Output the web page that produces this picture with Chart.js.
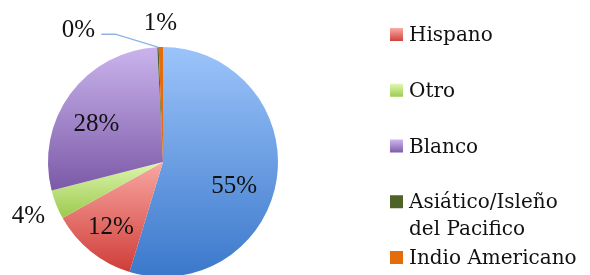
<!DOCTYPE html>
<html>
<head>
<meta charset="utf-8">
<script src="https://cdn.jsdelivr.net/npm/chart.js@4"></script>
<style>
  html, body { margin: 0; padding: 0; background: #fff; overflow: hidden; }
  canvas { display: block; }
</style>
</head>
<body>
<canvas id="pie" width="590" height="290"></canvas>
<script>
// data (share of total, %)
const categories = ['Afroamericano', 'Hispano', 'Otro', 'Blanco', 'Asiático/Isleño del Pacifico', 'Indio Americano'];
const shares = [54.7, 12.2, 4.1, 28.2, 0.2, 0.6];
const lightColors = ['#9cc4fa', '#f9a7a2', '#ddf6ad', '#cab4ed', '#4f6228', '#e46c0a'];
const darkColors = ['#3b78cb', '#cf3d38', '#9cc94e', '#7b59a7', '#4f6228', '#e46c0a'];

// label placement: fraction of radius, extra turn in degrees
const labelSpots = [[0.65, 9.5], [0.72, 0], [1.26, 0], [0.67, -6], [1.37, -30], [1.21, 0]];

const total = shares.reduce((a, b) => a + b, 0);

function sliceFill(ctx) {
    let chart = ctx.chart
    let i = ctx.dataIndex
    let area = chart.chartArea
    if (!area) return lightColors[i]
    let cx = (area.left + area.right) / 2
    let cy = (area.top + area.bottom) / 2
    let r = Math.min(area.right - area.left, area.bottom - area.top) / 2
    let before = 0
    for (let k = 0; k < i; k++) before += shares[k]
    let a0 = before / total * 2 * Math.PI
    let a1 = (before + shares[i]) / total * 2 * Math.PI
    let ys = [cy, cy - r * Math.cos(a0), cy - r * Math.cos(a1)]
    if (a0 <= 0 || a1 >= 2 * Math.PI) ys.push(cy - r)
    if (a0 <= Math.PI && a1 >= Math.PI) ys.push(cy + r)
    let g = chart.ctx.createLinearGradient(0, Math.min(...ys), 0, Math.max(...ys))
    g.addColorStop(0, lightColors[i])
    g.addColorStop(1, darkColors[i])
    return g
}

const sliceLabels = {
    id: 'sliceLabels',
    afterDatasetsDraw(chart) {
        let c = chart.ctx
        let arcs = chart.getDatasetMeta(0).data
        c.save()
        c.font = '25px "Liberation Serif"'
        c.fillStyle = '#111'
        c.textAlign = 'center'
        c.textBaseline = 'middle'
        arcs.forEach((arc, i) => {
            let mid = (arc.startAngle + arc.endAngle) / 2
            let [f, turn] = labelSpots[i]
            let a = mid + turn * Math.PI / 180
            let tx = arc.x + Math.cos(a) * arc.outerRadius * f
            let ty = arc.y + Math.sin(a) * arc.outerRadius * f
            if (turn < -20) {
                // leader line for the displaced label
                c.strokeStyle = '#8db4e4'
                c.lineWidth = 1.5
                c.beginPath()
                c.moveTo(tx + 23, ty + 5)
                c.lineTo(tx + 37, ty + 5)
                c.lineTo(arc.x + Math.cos(mid) * arc.outerRadius, arc.y + Math.sin(mid) * arc.outerRadius)
                c.stroke()
            }
            c.fillText(Math.round(shares[i] / total * 100) + '%', tx, ty + 1)
        })
        c.restore()
    }
}

function wrap(c, text, maxWidth) {
    let words = text.split(' ')
    let lines = []
    let line = ''
    words.forEach(w => {
        let test = line ? line + ' ' + w : w
        if (line && c.measureText(test).width > maxWidth) {
            lines.push(line)
            line = w
        } else {
            line = test
        }
    })
    lines.push(line)
    return lines
}

const sideLegend = {
    id: 'sideLegend',
    afterDraw(chart) {
        let c = chart.ctx
        let x = 390
        let y0 = -20.75
        let step = 55.75
        c.save()
        c.font = '20px "DejaVu Serif"'
        c.fillStyle = '#111'
        c.textBaseline = 'middle'
        categories.forEach((name, i) => {
            let y = y0 + i * step
            let g = c.createLinearGradient(0, y - 6.5, 0, y + 6.5)
            g.addColorStop(0, lightColors[i])
            g.addColorStop(1, darkColors[i])
            c.fillStyle = g
            c.fillRect(x, y - 7, 13, 13)
            c.fillStyle = '#111'
            wrap(c, name, 180).forEach((line, j) => {
                c.fillText(line, x + 19, y + 1 + j * 27)
            })
        })
        c.restore()
    }
}

const pieChart = new Chart('pie', {
    type: 'pie',
    data: {
        labels: categories,
        datasets: [{
            data: shares,
            backgroundColor: sliceFill,
            borderWidth: 0
        }]
    },
    options: {
        responsive: false,
        animation: false,
        devicePixelRatio: 1,
        layout: { padding: { left: 48, top: 47, right: 312, bottom: 13 } },
        plugins: {
            legend: { display: false },
            tooltip: { enabled: false }
        }
    },
    plugins: [sliceLabels, sideLegend]
});
</script>
</body>
</html>
